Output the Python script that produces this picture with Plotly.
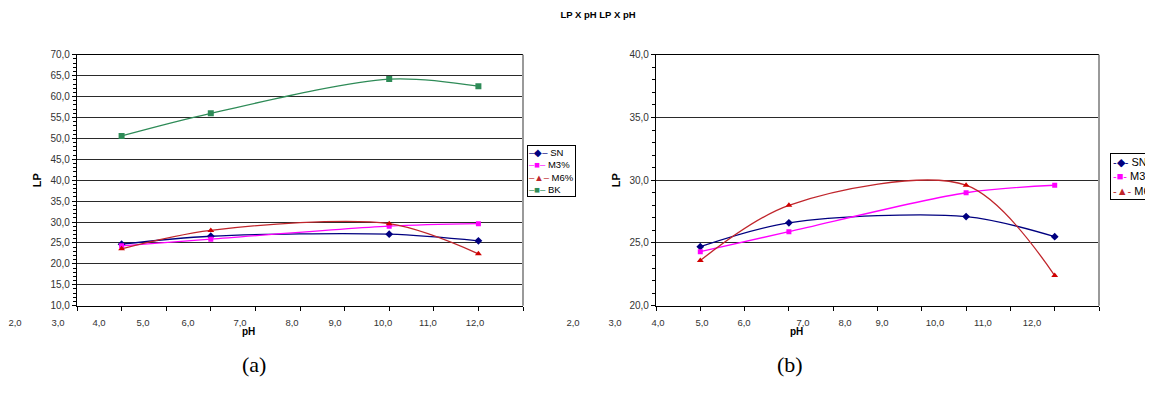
import plotly.graph_objects as go

# ---------------- data ----------------
PH = [3, 5, 9, 11]                     # x positions of the four measurements (axis 2..12)
SN = [24.7, 26.6, 27.1, 25.5]
M3 = [24.3, 25.9, 29.0, 29.6]
M6 = [23.6, 28.0, 29.6, 22.4]
BK = [50.6, 56.0, 64.2, 62.5]
XTICK_TEXT = ["2,0", "3,0", "4,0", "5,0", "6,0", "7,0", "8,0", "9,0", "10,0", "11,0", "12,0"]

# ---------------- layout constants (page pixels) ----------------
PAGE_W, PAGE_H = 1153, 412
OFF = 8                                # default body margin of the html page
FW, FH = PAGE_W - OFF, PAGE_H - 2 * OFF
LEFT_PX = (77, 523)
RIGHT_PX = (656, 1099)
TOP_PX, BOT_PX = 51, 309
LBL_LEFT = [15, 58, 99, 143, 188, 240, 292, 335, 383, 428, 475]
LBL_RIGHT = [573, 615, 658, 702, 744, 803, 845, 882, 935, 983, 1032]

def fx(p):
    return (p - OFF) / FW

def fy(p):
    return 1 - (p - OFF) / FH

FONT = "Liberation Sans, Arial, sans-serif"
C_SN, C_M3, C_M6, C_BK = "#000080", "#FF00FF", "#C0262C", "#2E8B57"
MK_M6 = "#D00000"

fig = go.Figure()

def add_series(name, y, xa, ya, color, symbol, size, mcolor=None):
    fig.add_trace(go.Scatter(
        x=PH, y=y, xaxis=xa, yaxis=ya, name=name, showlegend=False,
        mode="lines+markers",
        line=dict(color=color, width=1.3, shape="spline", smoothing=0.9),
        marker=dict(symbol=symbol, size=size, color=mcolor or color),
    ))

# left panel
add_series("SN", SN, "x", "y", C_SN, "diamond", 6)
add_series("M3%", M3, "x", "y", C_M3, "square", 5)
add_series("M6%", M6, "x", "y", C_M6, "triangle-up", 6, MK_M6)
add_series("BK", BK, "x", "y", C_BK, "square", 6)
# right panel
add_series("SN", SN, "x2", "y2", C_SN, "diamond", 6)
add_series("M3%", M3, "x2", "y2", C_M3, "square", 5)
add_series("M6%", M6, "x2", "y2", C_M6, "triangle-up", 6, MK_M6)

# invisible trace so the tick-label strip (x3/y3) is drawn
fig.add_trace(go.Scatter(x=[None], y=[None], xaxis="x3", yaxis="y3", showlegend=False,
                         hoverinfo="skip"))

xcommon = dict(range=[2, 12], tick0=2, dtick=1, showticklabels=False, ticks="outside",
               ticklen=4, tickcolor="black", showline=True, linecolor="black", linewidth=1.3,
               mirror=True, showgrid=False, zeroline=False)
ycommon = dict(dtick=5, tickformat=".1f", ticks="outside", ticklen=4, tickcolor="black",
               showline=True, linecolor="black", linewidth=1.3, showgrid=True,
               gridcolor="#2a2a2a", gridwidth=1.3, zeroline=False,
               tickfont=dict(family=FONT, size=10, color="#333333"),
               minor=dict(dtick=1, ticks="outside", ticklen=3, tickcolor="black", showgrid=False),
               title=dict(text="<b>LP</b>", font=dict(family=FONT, size=11, color="black"), standoff=6))

fig.update_layout(
    width=FW, height=FH,
    margin=dict(l=0, r=0, t=0, b=0),
    paper_bgcolor="white", plot_bgcolor="rgba(0,0,0,0)",
    separators=",.",
    font=dict(family=FONT, size=10, color="#333333"),
    showlegend=False,
    xaxis=dict(domain=[fx(LEFT_PX[0]), fx(LEFT_PX[1])], anchor="y", **xcommon),
    xaxis2=dict(domain=[fx(RIGHT_PX[0]), fx(RIGHT_PX[1])], anchor="y2", **xcommon),
    yaxis=dict(domain=[fy(BOT_PX), fy(TOP_PX)], anchor="x", range=[10, 70], **ycommon),
    yaxis2=dict(domain=[fy(BOT_PX), fy(TOP_PX)], anchor="x2", range=[20, 40], **ycommon),
    xaxis3=dict(domain=[fx(OFF), 1], range=[OFF, PAGE_W], anchor="y3",
                showline=False, showgrid=False, zeroline=False, ticks="",
                tickmode="array", tickvals=LBL_LEFT + LBL_RIGHT, ticktext=XTICK_TEXT + XTICK_TEXT,
                tickfont=dict(family=FONT, size=9.5, color="#333333")),
    yaxis3=dict(domain=[fy(319), fy(316)], anchor="x3", visible=False, range=[0, 1]),
    title=dict(text="<b>LP X pH LP X pH</b>", x=fx(598), xanchor="center", y=fy(15), yanchor="middle",
               font=dict(family=FONT, size=9.5, color="black")),
)

# gray right borders of the plot areas
for xr, yr in (("x domain", "y domain"), ("x2 domain", "y2 domain")):
    fig.add_shape(type="line", xref=xr, yref=yr, x0=1, x1=1, y0=0, y1=1,
                  line=dict(color="#9a9a9a", width=2))

# compact legends (one per panel)
def legend_text(items, dash):
    rows = []
    for name, color, glyph in items:
        rows.append(f'<span style="color:{color}">{dash}{glyph}{dash}</span> {name}')
    return "<br>".join(rows)

LEG_A = [("SN", C_SN, "◆"), ("M3%", C_M3, "■"), ("M6%", C_M6, "▲"), ("BK", C_BK, "■")]
LEG_B = LEG_A[:3]
fig.add_annotation(x=fx(527), y=fy(144), xref="paper", yref="paper", xanchor="left", yanchor="top",
                   text=legend_text(LEG_A, "–"), showarrow=False, align="left",
                   bordercolor="black", borderwidth=1, borderpad=1, bgcolor="white",
                   font=dict(family=FONT, size=9.5, color="black"))
fig.add_annotation(x=fx(1110), y=fy(152), xref="paper", yref="paper", xanchor="left", yanchor="top",
                   text=legend_text(LEG_B, "-"), showarrow=False, align="left",
                   bordercolor="black", borderwidth=1, borderpad=2, bgcolor="white",
                   font=dict(family=FONT, size=11, color="black"))

# axis titles and panel captions
for x, t in ((240, "<b>pH</b>"), (805, "<b>pH</b>")):
    fig.add_annotation(x=fx(x), y=fy(343), xref="paper", yref="paper", text=t, showarrow=False,
                       font=dict(family=FONT, size=10, color="black"))
for x, t in ((240, "(a)"), (805, "(b)")):
    fig.add_annotation(x=fx(x), y=fy(384), xref="paper", yref="paper", text=t, showarrow=False,
                       font=dict(family="Liberation Serif, Times New Roman, serif", size=22, color="black"))

fig.write_html("out.html")
